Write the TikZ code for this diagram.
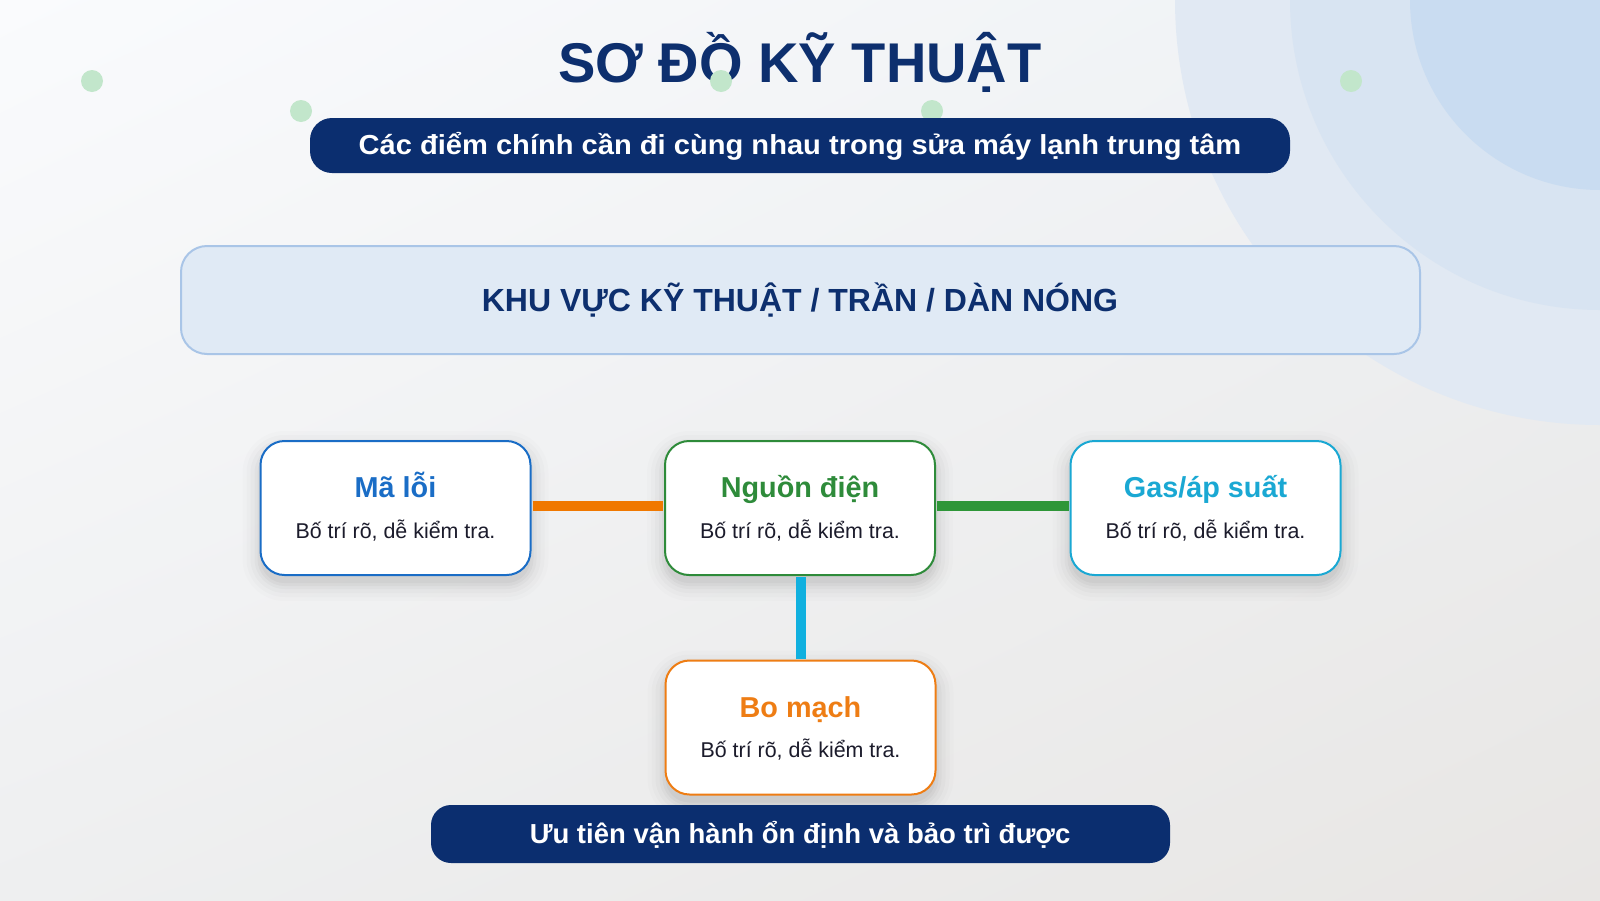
\documentclass[tikz,border=0pt]{standalone}
\usepackage{fontspec}
\setmainfont{Liberation Sans}
\usetikzlibrary{shadings}
\definecolor{navy}{HTML}{0B2E6F}
\definecolor{titlenavy}{HTML}{0D2F6E}
\definecolor{bgA}{HTML}{FAFBFD}
\definecolor{bgB}{HTML}{EEF1F4}
\definecolor{bgC}{HTML}{EEEFF0}
\definecolor{bgD}{HTML}{E8E6E4}
\definecolor{circA}{HTML}{E1E9F3}
\definecolor{circB}{HTML}{D8E4F2}
\definecolor{circC}{HTML}{C9DCF1}
\definecolor{dotgreen}{HTML}{C2E6CB}
\definecolor{zonefill}{HTML}{E0EAF5}
\definecolor{zoneline}{HTML}{A9C5E7}
\definecolor{cblue}{HTML}{1A6DC6}
\definecolor{cgreen}{HTML}{2E8B3A}
\definecolor{ccyan}{HTML}{1AA8D3}
\definecolor{corange}{HTML}{EE7D14}
\definecolor{lorange}{HTML}{F07800}
\definecolor{lgreen}{HTML}{2E9638}
\definecolor{lcyan}{HTML}{10B0DF}
\definecolor{bodytext}{HTML}{1B1B2B}
\newcommand\mkshadow[2]{%
  \foreach \e/\o in {18/0.012, 14/0.016, 10/0.02, 6/0.025, 3/0.03, 0/0.03} {
    \pgfmathsetmacro\rr{24+\e}
    \fill[black, opacity=\o, rounded corners=\rr pt] (#1-135-\e, #2-67+8-\e) rectangle (#1+135+\e, #2+67+8+\e);
  }}
\tikzset{
  nodebox/.style={draw, line width=2pt, fill=white, rounded corners=24pt,
    minimum width=270pt, minimum height=134pt, inner sep=0pt},
  nodetitle/.style={anchor=base, font=\bfseries\fontsize{28.8}{32}\selectfont},
  nodebody/.style={anchor=base, text=bodytext, font=\fontsize{21.4}{24}\selectfont},
  banner/.style={fill=navy, rounded corners=22pt, inner sep=0pt},
  bannertext/.style={anchor=base, text=white, font=\bfseries\fontsize{27.5}{30}\selectfont},
  link/.style={line width=10pt},
  gdot/.style={fill=dotgreen}
}
\begin{document}
\begin{tikzpicture}[x=1pt,y=-1pt]
\useasboundingbox (0,0) rectangle (1600,900);
\shade[upper left=bgA, upper right=bgB, lower left=bgC, lower right=bgD] (0,0) rectangle (1600,900);
\begin{scope}
  \clip (0,0) rectangle (1600,900);
  \fill[circA] (1600,0) circle[radius=425];
  \fill[circB] (1600,0) circle[radius=310];
  \fill[circC] (1600,0) circle[radius=190];
\end{scope}
% title
\node[anchor=base, text=titlenavy, font=\bfseries\fontsize{56}{60}\selectfont] (title) at (800,82) {SƠ ĐỒ KỸ THUẬT};
% dots
\fill[gdot] (92,81) circle[radius=11];
\fill[gdot] (301,111) circle[radius=11];
\fill[gdot] (721,81) circle[radius=11];
\fill[gdot] (932,111) circle[radius=11];
\fill[gdot] (1351,81) circle[radius=11];
% subtitle banner
\node[banner, minimum width=980pt, minimum height=55pt] (sub) at (800,145.5) {};
\node[bannertext] (subtxt) at (800,154) {\scalebox{1.058}[1]{Các điểm chính cần đi cùng nhau trong sửa máy lạnh trung tâm}};
% zone
\node[draw=zoneline, line width=2pt, fill=zonefill, rounded corners=26pt, minimum width=1239pt, minimum height=108pt] (zone) at (800.5,300) {};
\node[anchor=base, text=titlenavy, font=\bfseries\fontsize{32}{36}\selectfont] (zonetxt) at (800,311) {KHU VỰC KỸ THUẬT / TRẦN / DÀN NÓNG};
% shadows
\mkshadow{395.5}{508}
\mkshadow{800}{508}
\mkshadow{1205.5}{508}
\mkshadow{800.5}{727.5}
% nodes
\node[nodebox, draw=cblue] (ml) at (395.5,508) {};
\node[nodebox, draw=cgreen] (nd) at (800,508) {};
\node[nodebox, draw=ccyan] (gas) at (1205.5,508) {};
\node[nodebox, draw=corange] (bo) at (800.5,727.5) {};
\node[nodetitle, text=cblue] (mlt) at ([yshift=11pt]ml.center) {Mã lỗi};
\node[nodebody] (mlb) at ([yshift=-30pt]ml.center) {Bố trí rõ, dễ kiểm tra.};
\node[nodetitle, text=cgreen] (ndt) at ([yshift=11pt]nd.center) {Nguồn điện};
\node[nodebody] (ndb) at ([yshift=-30pt]nd.center) {Bố trí rõ, dễ kiểm tra.};
\node[nodetitle, text=ccyan] (gast) at ([yshift=11pt]gas.center) {Gas/áp suất};
\node[nodebody] (gasb) at ([yshift=-30pt]gas.center) {Bố trí rõ, dễ kiểm tra.};
\node[nodetitle, text=corange] (bot) at ([yshift=10pt]bo.center) {Bo mạch};
\node[nodebody] (bob) at ([yshift=-30pt]bo.center) {Bố trí rõ, dễ kiểm tra.};
% connectors
\draw[link, lorange] ([xshift=1pt,yshift=2pt]ml.east) -- ([xshift=-1pt,yshift=2pt]nd.west);
\draw[link, lgreen] ([xshift=1pt,yshift=2pt]nd.east) -- ([xshift=-1pt,yshift=2pt]gas.west);
\draw[link, lcyan] ([xshift=1pt,yshift=-1pt]nd.south) -- ([xshift=1pt,yshift=1pt]nd.south |- bo.north);
% bottom banner
\node[banner, rounded corners=20pt, minimum width=739pt, minimum height=58pt] (foot) at (800.5,834) {};
\node[bannertext] (foottxt) at (800,843) {Ưu tiên vận hành ổn định và bảo trì được};
\end{tikzpicture}
\end{document}
